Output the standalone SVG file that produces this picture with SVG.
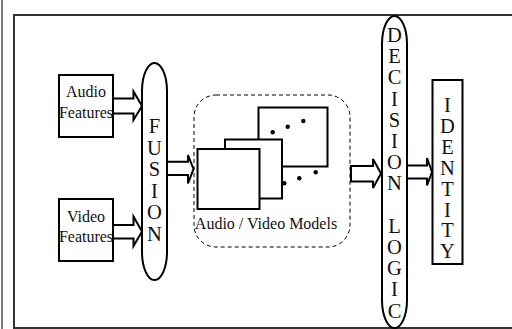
<svg xmlns="http://www.w3.org/2000/svg" width="512" height="329" viewBox="0 0 512 329">
  <style>
    .box { fill: #fff; stroke: #000; stroke-width: 2; }
    .pill { fill: #fff; stroke: #000; stroke-width: 2; }
    .arrow { fill: #fff; stroke: #000; stroke-width: 2; stroke-linejoin: miter; }
    .lbl { font-family: "Liberation Serif", "Times New Roman", serif; font-size: 16px; fill: #111; }
    .big { font-family: "Liberation Serif", "Times New Roman", serif; font-size: 20.5px; fill: #111; text-anchor: middle; }
    .dot { fill: #000; }
  </style>

  <!-- page frame -->
  <g id="frame">
    <rect x="0" y="0" width="512" height="329" fill="#fff"/>
    <line x1="2" y1="0" x2="2" y2="329" stroke="#222" stroke-width="1.2"/>
    <path d="M513,15 H14 V328 H513" fill="none" stroke="#333" stroke-width="2"/>
  </g>

  <g id="audio-features">
    <rect class="box" x="59" y="75" width="54" height="62"/>
    <text class="lbl" x="86" y="97" text-anchor="middle">Audio</text>
    <text class="lbl" x="86" y="118" text-anchor="middle">Features</text>
  </g>

  <g id="video-features">
    <rect class="box" x="59" y="199" width="54" height="62"/>
    <text class="lbl" x="86" y="221.5" text-anchor="middle">Video</text>
    <text class="lbl" x="86" y="241.5" text-anchor="middle">Features</text>
  </g>

  <g id="fusion">
    <rect class="pill" x="142" y="63" width="25" height="217" rx="12.5" ry="28"/>
    <text class="big" x="154.5" y="133.3">F</text>
    <text class="big" x="154.5" y="154.8">U</text>
    <text class="big" x="154.5" y="176.3">S</text>
    <text class="big" x="154.5" y="197.8">I</text>
    <text class="big" x="154.5" y="219.3">O</text>
    <text class="big" x="154.5" y="240.8">N</text>
  </g>

  <g id="models">
    <rect x="194" y="95" width="156" height="152" rx="22" ry="22" fill="none" stroke="#000" stroke-width="1" stroke-dasharray="4 3"/>
    <rect class="box" x="258.5" y="107.5" width="69" height="59"/>
    <rect class="box" x="225" y="139.5" width="57" height="59"/>
    <rect class="box" x="197.5" y="149" width="62" height="60"/>
    <circle class="dot" cx="272.7" cy="132.3" r="2.2"/>
    <circle class="dot" cx="287.7" cy="126.7" r="2.2"/>
    <circle class="dot" cx="303.3" cy="121" r="2.2"/>
    <circle class="dot" cx="284.3" cy="183.3" r="2.2"/>
    <circle class="dot" cx="299.3" cy="178.3" r="2.2"/>
    <circle class="dot" cx="315.7" cy="172.3" r="2.2"/>
    <text class="lbl" x="266" y="229" text-anchor="middle">Audio / Video Models</text>
  </g>

  <g id="decision-logic">
    <rect class="pill" x="382" y="16" width="25" height="312" rx="12.5" ry="28"/>
    <text class="big" x="394.5" y="42">D</text>
    <text class="big" x="394.5" y="63.2">E</text>
    <text class="big" x="394.5" y="84.4">C</text>
    <text class="big" x="394.5" y="105.6">I</text>
    <text class="big" x="394.5" y="126.8">S</text>
    <text class="big" x="394.5" y="148">I</text>
    <text class="big" x="394.5" y="169.2">O</text>
    <text class="big" x="394.5" y="190.4">N</text>
    <text class="big" x="394.5" y="232.8">L</text>
    <text class="big" x="394.5" y="254">O</text>
    <text class="big" x="394.5" y="275.2">G</text>
    <text class="big" x="394.5" y="296.4">I</text>
    <text class="big" x="394.5" y="317.6">C</text>
  </g>

  <g id="identity">
    <rect class="box" x="432.5" y="80" width="30" height="184"/>
    <text class="big" x="447.5" y="112">I</text>
    <text class="big" x="447.5" y="132.9">D</text>
    <text class="big" x="447.5" y="153.8">E</text>
    <text class="big" x="447.5" y="174.7">N</text>
    <text class="big" x="447.5" y="195.6">T</text>
    <text class="big" x="447.5" y="216.5">I</text>
    <text class="big" x="447.5" y="237.4">T</text>
    <text class="big" x="447.5" y="258.3">Y</text>
  </g>

  <!-- block arrows -->
  <g id="connectors">
    <polygon class="arrow" points="113,98.5 133.5,98.5 133.5,91.5 142,106 133.5,120 133.5,113.5 113,113.5"/>
    <polygon class="arrow" points="113,225 133.5,225 133.5,216.5 142,231.5 133.5,246 133.5,238.5 113,238.5"/>
    <polygon class="arrow" points="167,161.7 188,161.7 188,155 193.5,169 188,183.5 188,175 167,175"/>
    <polygon class="arrow" points="351,166 373,166 373,159 381,173.5 373,188 373,181.5 351,181.5"/>
    <polygon class="arrow" points="407,165.5 427,165.5 427,158 432,172 427,185.5 427,178.5 407,178.5"/>
  </g>
</svg>
